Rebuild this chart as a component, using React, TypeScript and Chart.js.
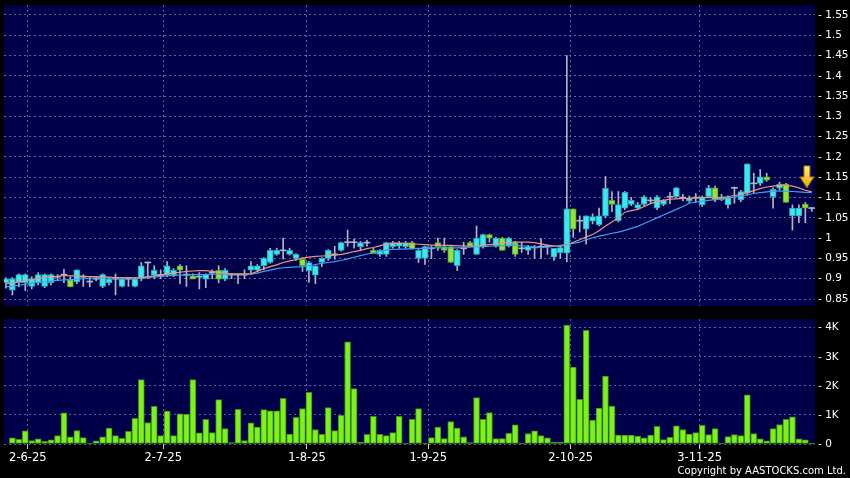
import React, { useEffect, useRef } from 'react';
import { Chart, registerables } from 'chart.js';
Chart.register(...registerables);

// ---- data ----
const openP = [
  0.890, 0.872, 0.890, 0.890, 0.881, 0.890, 0.881, 0.890, 0.905, 0.910,
  0.898, 0.892, 0.905, 0.893, 0.900, 0.881, 0.890, 0.900, 0.881, 0.900,
  0.881, 0.900, 0.940, 0.909, 0.909, 0.909, 0.909, 0.932, 0.910, 0.907,
  0.905, 0.899, 0.915, 0.921, 0.899, 0.910, 0.910, 0.910, 0.921, 0.921,
  0.932, 0.940, 0.960, 0.970, 0.960, 0.950, 0.948, 0.920, 0.909, 0.940,
  0.950, 0.960, 0.970, 0.990, 0.990, 0.979, 0.989, 0.970, 0.960, 0.960,
  0.979, 0.980, 0.979, 0.989, 0.950, 0.950, 0.975, 0.989, 0.979, 0.979,
  0.932, 0.975, 0.989, 0.960, 0.980, 1.009, 0.980, 1.000, 0.980, 0.989,
  0.975, 0.970, 0.977, 0.979, 0.980, 0.953, 0.964, 0.963, 1.072, 1.043,
  1.022, 1.042, 1.033, 1.055, 1.093, 1.043, 1.074, 1.083, 1.074, 1.083,
  1.093, 1.074, 1.083, 1.102, 1.102, 1.100, 1.092, 1.100, 1.082, 1.102,
  1.124, 1.102, 1.082, 1.124, 1.094, 1.111, 1.135, 1.135, 1.151, 1.102,
  1.123, 1.133, 1.055, 1.055, 1.084, 1.074,
];
const highP = [
  0.902, 0.903, 0.912, 0.912, 0.905, 0.915, 0.912, 0.912, 0.910, 0.923,
  0.905, 0.922, 0.910, 0.905, 0.905, 0.912, 0.903, 0.912, 0.902, 0.902,
  0.902, 0.940, 0.941, 0.932, 0.922, 0.942, 0.925, 0.935, 0.932, 0.912,
  0.915, 0.912, 0.922, 0.932, 0.925, 0.912, 0.912, 0.922, 0.942, 0.935,
  0.952, 0.975, 0.975, 1.000, 0.975, 0.962, 0.952, 0.942, 0.932, 0.952,
  0.972, 0.980, 0.990, 1.020, 0.998, 0.992, 0.995, 0.975, 0.972, 0.990,
  0.992, 0.992, 0.992, 0.992, 0.972, 0.980, 0.980, 1.000, 1.000, 0.982,
  0.972, 0.990, 0.992, 1.030, 1.010, 1.010, 1.002, 1.002, 1.002, 0.992,
  0.990, 0.982, 0.982, 0.999, 0.983, 0.975, 0.980, 1.450, 1.072, 1.055,
  1.055, 1.060, 1.074, 1.152, 1.115, 1.115, 1.115, 1.100, 1.088, 1.105,
  1.100, 1.105, 1.095, 1.112, 1.125, 1.108, 1.104, 1.110, 1.104, 1.130,
  1.128, 1.108, 1.104, 1.126, 1.118, 1.183, 1.160, 1.169, 1.160, 1.124,
  1.138, 1.135, 1.082, 1.082, 1.088, 1.076,
];
const lowP = [
  0.877, 0.860, 0.880, 0.871, 0.875, 0.885, 0.878, 0.885, 0.895, 0.890,
  0.880, 0.888, 0.881, 0.880, 0.895, 0.878, 0.885, 0.860, 0.880, 0.881,
  0.880, 0.895, 0.900, 0.900, 0.900, 0.905, 0.905, 0.888, 0.881, 0.900,
  0.875, 0.878, 0.900, 0.890, 0.895, 0.900, 0.888, 0.900, 0.915, 0.918,
  0.922, 0.938, 0.958, 0.948, 0.958, 0.945, 0.918, 0.891, 0.888, 0.930,
  0.945, 0.948, 0.968, 0.980, 0.975, 0.970, 0.980, 0.962, 0.955, 0.955,
  0.975, 0.975, 0.975, 0.973, 0.940, 0.935, 0.950, 0.970, 0.965, 0.940,
  0.920, 0.960, 0.980, 0.960, 0.975, 0.990, 0.978, 0.970, 0.978, 0.955,
  0.965, 0.960, 0.950, 0.950, 0.960, 0.945, 0.950, 0.942, 1.002, 1.015,
  0.985, 1.035, 1.030, 1.050, 1.065, 1.040, 1.070, 1.080, 1.070, 1.080,
  1.085, 1.070, 1.080, 1.085, 1.100, 1.092, 1.088, 1.088, 1.078, 1.100,
  1.090, 1.092, 1.074, 1.086, 1.090, 1.105, 1.110, 1.130, 1.140, 1.074,
  1.118, 1.088, 1.020, 1.038, 1.038, 1.066,
];
const closeP = [
  0.900, 0.900, 0.910, 0.910, 0.900, 0.910, 0.910, 0.910, 0.905, 0.910,
  0.880, 0.922, 0.905, 0.893, 0.900, 0.910, 0.900, 0.900, 0.900, 0.900,
  0.900, 0.932, 0.940, 0.921, 0.909, 0.932, 0.921, 0.921, 0.910, 0.899,
  0.905, 0.911, 0.915, 0.899, 0.921, 0.910, 0.910, 0.910, 0.932, 0.932,
  0.951, 0.970, 0.970, 0.970, 0.970, 0.960, 0.932, 0.940, 0.932, 0.950,
  0.970, 0.960, 0.989, 0.990, 0.990, 0.989, 0.989, 0.962, 0.970, 0.989,
  0.989, 0.989, 0.989, 0.973, 0.970, 0.979, 0.975, 0.979, 0.970, 0.940,
  0.970, 0.975, 0.980, 1.000, 1.009, 1.000, 1.000, 0.970, 1.000, 0.960,
  0.975, 0.979, 0.977, 0.979, 0.980, 0.975, 0.977, 1.072, 1.022, 1.043,
  1.055, 1.053, 1.055, 1.123, 1.083, 1.083, 1.113, 1.093, 1.083, 1.102,
  1.093, 1.102, 1.093, 1.102, 1.124, 1.100, 1.098, 1.100, 1.102, 1.124,
  1.095, 1.095, 1.102, 1.124, 1.115, 1.183, 1.135, 1.151, 1.143, 1.120,
  1.133, 1.088, 1.074, 1.074, 1.074, 1.074,
];
const volume = [
  0, 210, 160, 450, 115, 175, 90, 140, 290, 1075,
  245, 460, 220, 20, 105, 245, 545, 290, 195, 440,
  880, 2220, 740, 1295, 290, 1130, 290, 1040, 1030, 2220,
  380, 845, 390, 1525, 530, 45, 1190, 115, 730, 580,
  1180, 1145, 1145, 1570, 345, 915, 1215, 1780, 500, 335,
  1250, 460, 985, 3515, 1910, 60, 335, 950, 335, 290,
  390, 950, 15, 845, 1215, 35, 220, 580, 185, 775,
  545, 245, 45, 1595, 845, 1085, 185, 185, 370, 660,
  35, 360, 450, 290, 210, 60, 60, 4090, 2650, 1540,
  3910, 820, 1235, 2335, 1305, 310, 310, 310, 275, 210,
  310, 610, 150, 230, 625, 500, 345, 390, 645, 325,
  530, 35, 255, 325, 290, 1690, 360, 175, 105, 530,
  670, 845, 935, 175, 140, 20,
];
const maShort = [
  0.888, 0.890, 0.893, 0.896, 0.898, 0.901, 0.903, 0.905, 0.906, 0.908,
  0.907, 0.907, 0.906, 0.905, 0.905, 0.904, 0.904, 0.903, 0.903, 0.902,
  0.902, 0.902, 0.905, 0.907, 0.910, 0.912, 0.914, 0.916, 0.918, 0.919,
  0.920, 0.920, 0.918, 0.916, 0.914, 0.912, 0.912, 0.912, 0.912, 0.918,
  0.925, 0.930, 0.934, 0.940, 0.944, 0.947, 0.951, 0.953, 0.955, 0.956,
  0.957, 0.958, 0.960, 0.963, 0.967, 0.970, 0.974, 0.977, 0.981, 0.986,
  0.987, 0.987, 0.986, 0.986, 0.985, 0.984, 0.983, 0.983, 0.982, 0.982,
  0.981, 0.981, 0.980, 0.980, 0.982, 0.984, 0.986, 0.988, 0.990, 0.990,
  0.990, 0.990, 0.989, 0.986, 0.983, 0.981, 0.980, 0.983, 0.990, 0.996,
  1.003, 1.009, 1.018, 1.030, 1.040, 1.050, 1.064, 1.068, 1.071, 1.078,
  1.085, 1.090, 1.093, 1.096, 1.097, 1.098, 1.098, 1.099, 1.100, 1.100,
  1.100, 1.100, 1.102, 1.105, 1.108, 1.112, 1.117, 1.122, 1.126, 1.128,
  1.130, 1.130, 1.128, 1.124, 1.118, 1.114,
];
const maLong = [
  0.880, 0.882, 0.884, 0.886, 0.889, 0.891, 0.892, 0.894, 0.896, 0.897,
  0.898, 0.899, 0.900, 0.901, 0.902, 0.902, 0.902, 0.902, 0.902, 0.902,
  0.902, 0.902, 0.903, 0.904, 0.906, 0.907, 0.908, 0.909, 0.909, 0.910,
  0.910, 0.910, 0.911, 0.911, 0.911, 0.911, 0.911, 0.911, 0.911, 0.914,
  0.918, 0.921, 0.925, 0.927, 0.928, 0.929, 0.930, 0.932, 0.935, 0.938,
  0.940, 0.942, 0.945, 0.949, 0.953, 0.957, 0.961, 0.964, 0.967, 0.971,
  0.972, 0.973, 0.973, 0.974, 0.975, 0.975, 0.976, 0.976, 0.976, 0.976,
  0.976, 0.977, 0.978, 0.979, 0.979, 0.980, 0.981, 0.981, 0.982, 0.982,
  0.981, 0.980, 0.978, 0.977, 0.978, 0.980, 0.982, 0.984, 0.987, 0.990,
  0.996, 1.001, 1.005, 1.008, 1.012, 1.015, 1.019, 1.024, 1.029, 1.036,
  1.043, 1.050, 1.057, 1.064, 1.071, 1.078, 1.086, 1.089, 1.091, 1.093,
  1.095, 1.097, 1.099, 1.101, 1.104, 1.107, 1.110, 1.112, 1.114, 1.116,
  1.116, 1.116, 1.115, 1.114, 1.113, 1.112,
];
const dateTickPos = [3.4, 24.4, 46.7, 65.5, 87.6, 107.6];
const dateTickLabels = ['2-6-25', '2-7-25', '1-8-25', '1-9-25', '2-10-25', '3-11-25'];
const priceTicks = [0.85, 0.9, 0.95, 1.0, 1.05, 1.1, 1.15, 1.2, 1.25, 1.3, 1.35, 1.4, 1.45, 1.5, 1.55];
const priceTickLabels = ['0.85', '0.9', '0.95', '1', '1.05', '1.1', '1.15', '1.2', '1.25', '1.3', '1.35', '1.4', '1.45', '1.5', '1.55'];
const volTicks = [0, 1000, 2000, 3000, 4000];
const volTickLabels = ['0', '1K', '2K', '3K', '4K'];
const copyrightText = 'Copyright by AASTOCKS.com Ltd.';

// ---- styles ----
const NAVY = '#00004a';
const GRID = 'rgba(130,130,185,0.75)';
const FONT = '"DejaVu Sans", sans-serif';
const UP_FILL = '#3fe6f0';
const UP_EDGE = '#22a9b8';
const DN_FILL = '#8ee63a';
const DN_EDGE = '#5a9e22';
const WICK = '#b4b4c4';

const plotBg = {
  id: 'plotBg',
  beforeDraw(chart: any) {
    const { ctx, chartArea: a } = chart;
    ctx.save();
    ctx.fillStyle = NAVY;
    ctx.fillRect(a.left, a.top, a.right - a.left, a.bottom - a.top);
    ctx.restore();
  },
};

const arrowPlugin = {
  id: 'arrowMark',
  afterDatasetsDraw(chart: any) {
    const { ctx } = chart;
    const last = closeP.length - 1;
    const tx = chart.scales.x.getPixelForValue(last - 0.75);
    const ty = chart.scales.y.getPixelForValue(maShort[last]) - 4;
    ctx.save();
    const g = ctx.createLinearGradient(0, ty - 22, 0, ty);
    g.addColorStop(0, '#fff27a');
    g.addColorStop(1, '#e8a400');
    ctx.fillStyle = g;
    ctx.strokeStyle = '#9a6a00';
    ctx.lineWidth = 1;
    ctx.beginPath();
    ctx.moveTo(tx - 3, ty - 22);
    ctx.lineTo(tx + 3, ty - 22);
    ctx.lineTo(tx + 3, ty - 11);
    ctx.lineTo(tx + 7, ty - 11);
    ctx.lineTo(tx, ty);
    ctx.lineTo(tx - 7, ty - 11);
    ctx.lineTo(tx - 3, ty - 11);
    ctx.closePath();
    ctx.fill();
    ctx.stroke();
    ctx.restore();
  },
};

const copyrightPlugin = {
  id: 'copyright',
  afterDraw(chart: any) {
    const { ctx } = chart;
    ctx.save();
    ctx.font = '10px ' + FONT;
    ctx.fillStyle = '#ffffff';
    ctx.textAlign = 'right';
    ctx.textBaseline = 'middle';
    ctx.fillText(copyrightText, 846, chart.height - 7);
    ctx.restore();
  },
};

const isDoji = (i: number) => Math.abs(openP[i] - closeP[i]) < 0.0005;
const bodyFill = (i: number) => (isDoji(i) ? WICK : closeP[i] > openP[i] ? UP_FILL : DN_FILL);
const bodyEdge = (i: number) => (isDoji(i) ? WICK : closeP[i] > openP[i] ? UP_EDGE : DN_EDGE);

function xAxis(showLabels: boolean) {
  return {
    type: 'linear' as const,
    min: -0.3,
    max: closeP.length - 0.5,
    offset: false,
    afterBuildTicks: (s: any) => {
      s.ticks = dateTickPos.map((v) => ({ value: v }));
    },
    afterFit: (s: any) => {
      s.height = showLabels ? 34 : 0;
      s.paddingLeft = 0;
      s.paddingRight = 0;
    },
    grid: {
      offset: false,
      color: GRID,
      lineWidth: 1,
      drawTicks: showLabels,
      tickLength: 5,
      tickColor: '#d0d0d0',
      tickBorderDash: [],
    },
    border: { display: false, dash: [2, 3] },
    ticks: {
      display: showLabels,
      autoSkip: false,
      maxRotation: 0,
      padding: 2,
      color: '#ffffff',
      font: { family: FONT, size: 11.5 },
      callback: (_v: any, idx: number) => dateTickLabels[idx],
    },
  };
}

function yAxis(min: number, max: number, ticks: number[], labels: string[]) {
  return {
    type: 'linear' as const,
    position: 'right' as const,
    min,
    max,
    afterBuildTicks: (s: any) => {
      s.ticks = ticks.map((v) => ({ value: v }));
    },
    afterFit: (s: any) => {
      s.width = 35;
      s.paddingTop = 0;
      s.paddingBottom = 0;
    },
    grid: { color: GRID, lineWidth: 1, drawTicks: false },
    border: { display: false, dash: [2, 3] },
    ticks: {
      autoSkip: false,
      padding: 3,
      color: '#ffffff',
      font: { family: FONT, size: 10.5 },
      callback: (_v: any, idx: number) => '- ' + labels[idx],
    },
  };
}

export default function App() {
  const priceRef = useRef<HTMLCanvasElement>(null);
  const volRef = useRef<HTMLCanvasElement>(null);

  useEffect(() => {
    const idx = closeP.map((_, i) => i);
    const priceChart = new Chart(priceRef.current as HTMLCanvasElement, {
      type: 'bar',
      data: {
        datasets: [
          {
            type: 'line',
            data: idx.map((i) => ({ x: i, y: maShort[i] })),
            borderColor: '#e8987e',
            borderWidth: 1.2,
            pointRadius: 0,
            tension: 0,
            order: 0,
          } as any,
          {
            type: 'line',
            data: idx.map((i) => ({ x: i, y: maLong[i] })),
            borderColor: '#3f9df0',
            borderWidth: 1.2,
            pointRadius: 0,
            tension: 0,
            order: 0,
          } as any,
          {
            type: 'bar',
            data: idx.map((i) => {
              const lo = Math.min(openP[i], closeP[i]);
              const hi = Math.max(openP[i], closeP[i]);
              return isDoji(i) ? { x: i, y: [lo - 0.0012, hi + 0.0012] } : { x: i, y: [lo, hi] };
            }),
            backgroundColor: (c: any) => bodyFill(c.dataIndex),
            borderColor: (c: any) => bodyEdge(c.dataIndex),
            borderWidth: (c: any) => (isDoji(c.dataIndex) ? 0 : 1),
            borderSkipped: false,
            barThickness: 6,
            grouped: false,
            order: 1,
          } as any,
          {
            type: 'bar',
            data: idx.map((i) => ({ x: i, y: [lowP[i], highP[i]] })),
            backgroundColor: WICK,
            borderWidth: 0,
            barThickness: 1,
            grouped: false,
            order: 2,
          } as any,
        ],
      },
      options: {
        responsive: false,
        animation: false,
        layout: { padding: { left: 4, top: 5, right: 0, bottom: 6 } },
        plugins: { legend: { display: false }, tooltip: { enabled: false } },
        scales: {
          x: xAxis(false) as any,
          y: yAxis(0.8328, 1.5745, priceTicks, priceTickLabels) as any,
        },
      },
      plugins: [plotBg, arrowPlugin],
    });

    const volChart = new Chart(volRef.current as HTMLCanvasElement, {
      type: 'bar',
      data: {
        datasets: [
          {
            data: idx.map((i) => ({ x: i, y: volume[i] })),
            backgroundColor: '#7df01e',
            borderColor: '#3f8e12',
            borderWidth: 1,
            borderSkipped: false,
            barThickness: 6,
          } as any,
        ],
      },
      options: {
        responsive: false,
        animation: false,
        layout: { padding: { left: 4, top: 7, right: 0, bottom: 0 } },
        plugins: { legend: { display: false }, tooltip: { enabled: false } },
        scales: {
          x: xAxis(true) as any,
          y: yAxis(0, 4300, volTicks, volTickLabels) as any,
        },
      },
      plugins: [plotBg, copyrightPlugin],
    });

    return () => {
      priceChart.destroy();
      volChart.destroy();
    };
  }, []);

  return (
    <div style={{ position: 'fixed', left: 0, top: 0, width: 850, height: 478, background: '#000000' }}>
      <canvas ref={priceRef} width={850} height={312} style={{ position: 'absolute', left: 0, top: 0 }} />
      <canvas ref={volRef} width={850} height={166} style={{ position: 'absolute', left: 0, top: 312 }} />
    </div>
  );
}
